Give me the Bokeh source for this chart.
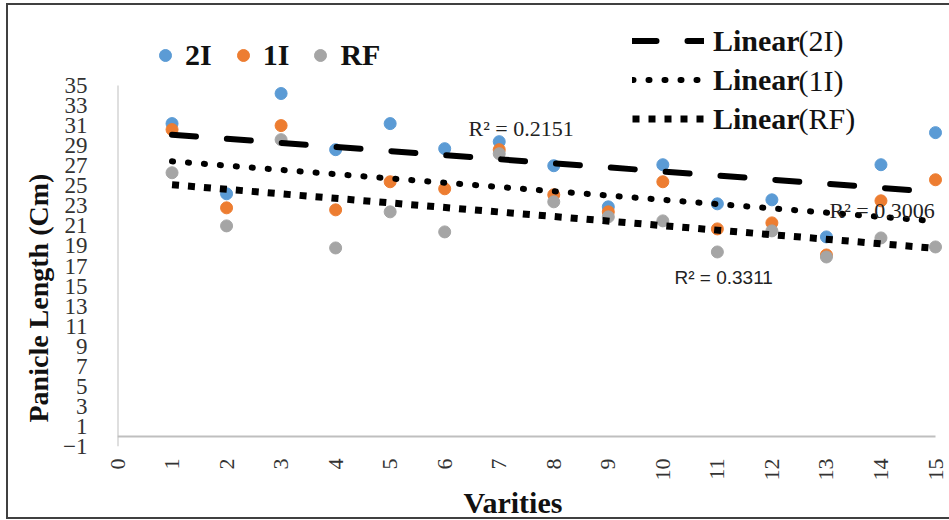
import numpy as np
from bokeh.plotting import figure
from bokeh.models import Range1d, FixedTicker, Legend, LegendItem, Label, Title, InlineStyleSheet
from bokeh.embed import file_html
from bokeh.resources import INLINE

# ---------------- data ----------------
varieties = [1, 2, 3, 4, 5, 6, 7, 8, 9, 10, 11, 12, 13, 14, 15]
y_2I = [31.2, 24.2, 34.2, 28.6, 31.2, 28.7, 29.4, 27.0, 22.9, 27.1, 23.2, 23.6, 19.9, 27.1, 30.3]
y_1I = [30.6, 22.8, 31.0, 22.6, 25.4, 24.7, 28.6, 24.1, 22.4, 25.4, 20.7, 21.3, 18.1, 23.5, 25.6]
y_RF = [26.3, 21.0, 29.6, 18.8, 22.4, 20.4, 28.2, 23.4, 21.9, 21.5, 18.4, 20.5, 17.9, 19.8, 18.9]
series_names = ["2I", "1I", "RF"]
trend_suffix = ["(2I)", " (1I)", "(RF)"]
r2_texts = ["R\u00b2 = 0.2151", "R\u00b2 = 0.3006", "R\u00b2 = 0.3311"]
x_ticks = list(range(0, 16))
y_ticks = list(range(-1, 36, 2))
x_axis_span = [0, 15]
y_axis_span = [-1, 35]

colors = ["#5B9BD5", "#ED7D31", "#A5A5A5"]
SERIF = "Liberation Serif"

W, H = 949, 520
FL, FR, FT, FB = 117, 0, 0, 74
# scale: x=0 at px 117, x=15 at px 935 ; y=-1 at px 446, y=35 at px 85
xppu = (935 - 117) / 15.0
yppu = (446 - 85) / 36.0
X0 = 0
X1 = X0 + (W - FL - FR) / xppu
Y0 = -1
Y1 = Y0 + (H - FB - FT) / yppu

border_css = InlineStyleSheet(css="""
:host { position: relative; }
:host::after {
  content: ""; position: absolute; left: 6px; top: 3px; right: -20px; bottom: 1px;
  border: 2px solid #404040; pointer-events: none; z-index: 100;
}
""")

p = figure(width=W, height=H, output_backend="svg", toolbar_location=None,
           x_range=Range1d(X0, X1), y_range=Range1d(Y0, Y1),
           min_border_left=FL, min_border_right=FR, min_border_top=FT, min_border_bottom=FB,
           stylesheets=[border_css])
p.outline_line_color = None
p.xgrid.visible = False
p.ygrid.visible = False
p.background_fill_color = "white"
p.border_fill_color = "white"

def dx(px):
    return X0 + (px - FL) / xppu
def dy(py):
    return Y0 + (H - FB - py) / yppu

# axes
xa = p.xaxis[0]
xa.ticker = FixedTicker(ticks=x_ticks)
xa.axis_line_color = None
xa.major_tick_line_color = None
xa.minor_tick_line_color = None
xa.major_label_orientation = np.pi / 2
xa.major_label_standoff = 6
xa.major_label_text_font = SERIF
xa.major_label_text_font_size = "22px"
xa.major_label_text_color = "#333333"

ya = p.yaxis[0]
ya.ticker = FixedTicker(ticks=y_ticks)
ya.axis_line_color = None
ya.major_tick_line_color = None
ya.minor_tick_line_color = None
ya.major_label_standoff = 24
ya.major_label_text_font = SERIF
ya.major_label_text_font_size = "23px"
ya.major_label_text_color = "#333333"

# axis titles as side titles (offset along the side)
ytitle = Title(text="Panicle Length (Cm)", align="left", offset=24, standoff=13,
               text_font=SERIF, text_font_style="bold", text_font_size="28px",
               text_color="#111111")
p.add_layout(ytitle, "left")
xtitle = Title(text="Varities", align="left", offset=346, standoff=0,
               text_font=SERIF, text_font_style="bold", text_font_size="30px",
               text_color="#111111")
p.add_layout(xtitle, "below")

# axis lines (light grey) : horizontal at 0, vertical at x=0
p.segment(x0=[x_axis_span[0]], y0=[0], x1=[x_axis_span[1]], y1=[0], line_color="#BFBFBF", line_width=2)
p.segment(x0=[0], y0=[y_axis_span[0]], x1=[0], y1=[y_axis_span[1]], line_color="#BFBFBF", line_width=2)

# scatter series
all_y = [y_2I, y_1I, y_RF]
scat = []
for ys, c in zip(all_y, colors):
    scat.append(p.scatter(varieties, ys, size=12, fill_color=c, line_color=c))

# linear trendlines (least squares from the data)
styles = [dict(line_width=6, line_dash="24 31", line_cap="round"),
          dict(line_width=6, line_dash="1 15", line_cap="round"),
          dict(line_width=7, line_dash="7 9", line_cap="butt")]
xs = np.array(varieties, dtype=float)
trend = []
for ys, st in zip(all_y, styles):
    m, b = np.polyfit(xs, np.array(ys), 1)
    xx = np.array([xs.min(), xs.max()])
    trend.append(p.line(xx, m * xx + b, line_color="black", **st))

# legend 1 (markers)
leg1 = Legend(items=[LegendItem(label=n, renderers=[r]) for n, r in zip(series_names, scat)],
              orientation="horizontal", location=(33, 374),
              glyph_width=30, glyph_height=30, label_standoff=5, spacing=16,
              padding=0, margin=0, border_line_color=None, background_fill_alpha=0,
              label_text_font=SERIF, label_text_font_style="bold",
              label_text_font_size="30px", label_text_color="#111111")
p.add_layout(leg1)

# legend 2 (trendlines)
leg2 = Legend(items=[LegendItem(label="Linear", renderers=[r]) for r in trend],
              orientation="vertical", location=(515, 308),
              glyph_width=72, glyph_height=39, label_standoff=9, spacing=0,
              padding=0, margin=0, border_line_color=None, background_fill_alpha=0,
              label_text_font=SERIF, label_text_font_style="bold",
              label_text_font_size="30px", label_text_color="#111111")
p.add_layout(leg2)

row_y = [40, 80, 118]
for s, py in zip(trend_suffix, row_y):
    p.add_layout(Label(x=dx(798), y=dy(py), text=s.strip(), text_font=SERIF, text_font_size="30px",
                       text_baseline="middle", text_align="left", text_color="#111111"))

# R^2 labels
r2_pos = [(468, 128, SERIF, "22px"), (829, 210, SERIF, "22px"), (674, 277, "Liberation Sans", "19px")]
for t, (px, py, f, fs) in zip(r2_texts, r2_pos):
    p.add_layout(Label(x=dx(px), y=dy(py), text=t, text_font=f, text_font_size=fs,
                       text_baseline="middle", text_align="left", text_color="#222222"))

open("out.html", "w").write(file_html(p, INLINE))
